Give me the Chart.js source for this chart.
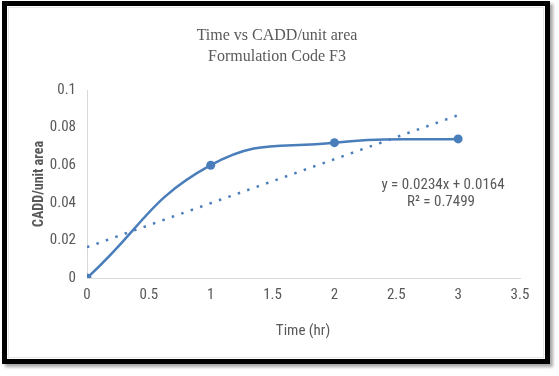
<!DOCTYPE html>
<html>
<head>
<meta charset="utf-8">
<script src="https://cdn.jsdelivr.net/npm/chart.js@4.4.1/dist/chart.umd.min.js"></script>
<style>
  html, body { margin: 0; padding: 0; background: #fff; }
  #wrap { position: relative; width: 559px; height: 376px; overflow: hidden; }
  #frame {
    position: absolute; left: 2px; top: 1px; width: 538px; height: 353px;
    border: 5px solid #000; box-shadow: 3px 3px 3px rgba(0,0,0,0.35);
    pointer-events: none;
  }
  #inner {
    position: absolute; left: 8px; top: 7px; width: 534px; height: 349px;
    border: 1px solid #e6e6e6; pointer-events: none;
  }
  canvas { position: absolute; left: 0; top: 0; }
</style>
</head>
<body>
<div id="wrap">
  <canvas id="chart" width="559" height="376"></canvas>
  <div id="inner"></div>
  <div id="frame"></div>
</div>
<script>
// data
const timeHr = [0, 1, 2, 3];
const caddPerArea = [0, 0.060, 0.072, 0.074];
const trendX = [0, 3];
const trendY = [0.0164, 0.0866];
const titleLines = ['Time vs CADD/unit area', 'Formulation Code F3'];
const equationLines = ['y = 0.0234x + 0.0164', 'R\u00b2 = 0.7499'];

const blue = '#4a7ebb';
const tickFont = "'Liberation Sans Narrow', 'Roboto Condensed', 'Liberation Sans', sans-serif";

// titles and trendline label drawn on top
const textPlugin = {
    id: 'texts',
    afterDraw(chart) {
        const ctx = chart.ctx;
        ctx.save();
        ctx.fillStyle = '#595959';
        ctx.textAlign = 'center';
        ctx.textBaseline = 'middle';

        ctx.font = "16px 'Liberation Serif', 'DejaVu Serif', serif";
        ctx.fillText(titleLines[0], 277, 36);
        ctx.fillText(titleLines[1], 277, 57);

        ctx.font = '15px ' + tickFont;
        ctx.fillText('Time (hr)', 303, 331);
        ctx.fillText(equationLines[0], 443, 185);
        ctx.fillText(equationLines[1], 441, 202);

        ctx.translate(39, 184);
        ctx.rotate(-Math.PI / 2);
        ctx.font = 'bold 14px ' + tickFont;
        ctx.fillText('CADD/unit area', 0, 0);
        ctx.restore();
    }
};

const plainTick = v => String(Number(v.toFixed(4)));

new Chart(document.getElementById('chart'), {
    type: 'line',
    data: {
        datasets: [
            {
                label: 'CADD',
                data: timeHr.map((t, i) => ({ x: t, y: caddPerArea[i] })),
                borderColor: blue,
                backgroundColor: blue,
                borderWidth: 2.5,
                pointRadius: 4.5,
                pointBorderWidth: 0,
                tension: 0.45,
                fill: false
            },
            {
                label: 'Linear',
                data: trendX.map((t, i) => ({ x: t, y: trendY[i] })),
                borderColor: blue,
                borderWidth: 2.5,
                borderDash: [2.5, 7.5],
                pointRadius: 0,
                fill: false
            }
        ]
    },
    options: {
        responsive: false,
        animation: false,
        layout: { padding: { left: 10, right: 39, top: 90, bottom: 40 } },
        plugins: {
            legend: { display: false },
            title: { display: false },
            tooltip: { enabled: false }
        },
        scales: {
            x: {
                type: 'linear',
                min: 0,
                max: 3.5,
                afterFit: s => { s.height = 58; },
                ticks: {
                    stepSize: 0.5,
                    padding: 8,
                    color: '#595959',
                    font: { family: tickFont, size: 15 },
                    maxRotation: 0,
                    callback: plainTick
                },
                grid: { color: 'rgba(0,0,0,0)', drawTicks: false },
                border: { display: true, color: '#d9d9d9', width: 1 }
            },
            y: {
                min: 0,
                max: 0.1,
                afterFit: s => { s.width = 77; },
                ticks: {
                    stepSize: 0.02,
                    padding: 11,
                    color: '#595959',
                    font: { family: tickFont, size: 15 },
                    callback: plainTick
                },
                grid: { color: 'rgba(0,0,0,0)', drawTicks: false },
                border: { display: true, color: '#d9d9d9', width: 1 }
            }
        }
    },
    plugins: [textPlugin]
});
</script>
</body>
</html>
